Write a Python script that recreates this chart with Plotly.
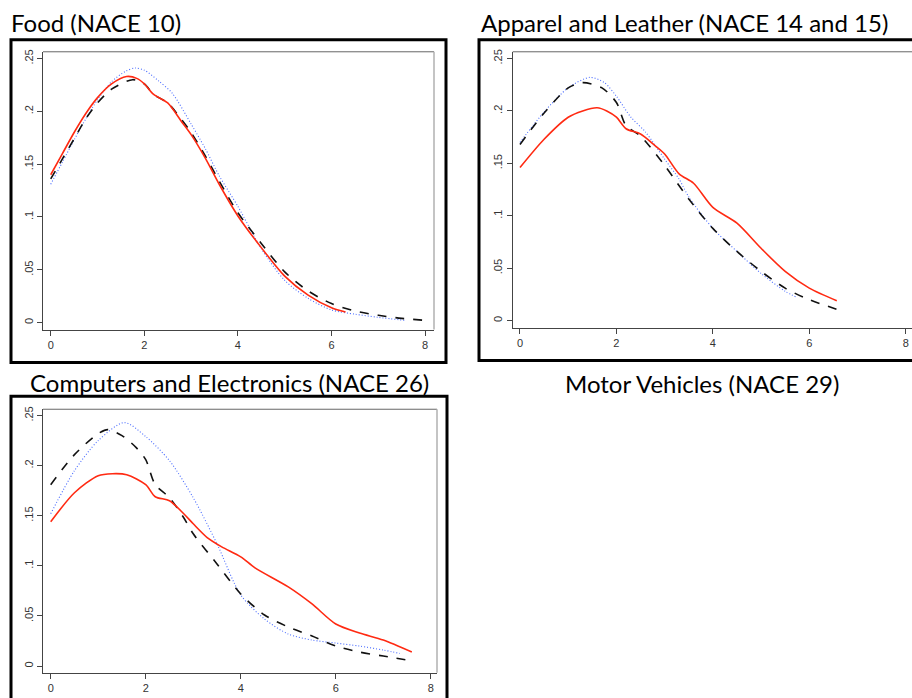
import plotly.graph_objects as go

W, H = 912, 698

# ---------------- data ----------------
# Food (NACE 10)
food_red_x = [0, 0.25, 0.5, 0.75, 1.0, 1.3, 1.62, 1.85, 2.0, 2.2, 2.5, 2.8, 3.0, 3.3, 3.6, 4.0, 4.5, 5.0, 5.5, 6.0, 6.3]
food_red_y = [0.140, 0.160, 0.180, 0.198, 0.213, 0.226, 0.233, 0.231, 0.226, 0.216, 0.208, 0.190, 0.178, 0.156, 0.131, 0.101, 0.071, 0.044, 0.026, 0.014, 0.010]
food_blk_x = [0, 0.25, 0.5, 0.75, 1.0, 1.3, 1.75, 2.0, 2.2, 2.5, 2.8, 3.0, 3.3, 3.6, 4.0, 4.5, 5.0, 5.5, 6.0, 6.5, 7.0, 7.5, 8.05]
food_blk_y = [0.136, 0.155, 0.174, 0.193, 0.208, 0.221, 0.230, 0.226, 0.216, 0.208, 0.192, 0.180, 0.158, 0.134, 0.104, 0.075, 0.048, 0.030, 0.018, 0.011, 0.007, 0.004, 0.002]
food_blu_x = [0, 0.25, 0.5, 0.75, 1.0, 1.3, 1.6, 1.8, 2.0, 2.3, 2.6, 3.0, 3.3, 3.6, 4.0, 4.5, 5.0, 5.5, 6.0, 6.5, 7.0, 7.6]
food_blu_y = [0.131, 0.152, 0.173, 0.193, 0.211, 0.228, 0.238, 0.241, 0.239, 0.229, 0.217, 0.188, 0.165, 0.139, 0.110, 0.070, 0.040, 0.023, 0.012, 0.008, 0.005, 0.002]

# Apparel and Leather (NACE 14 and 15)
app_red_x = [0, 0.5, 1.0, 1.3, 1.6, 1.8, 2.0, 2.2, 2.5, 2.8, 3.0, 3.3, 3.6, 4.0, 4.5, 5.0, 5.5, 6.0, 6.57]
app_red_y = [0.146, 0.173, 0.194, 0.200, 0.203, 0.200, 0.194, 0.183, 0.178, 0.167, 0.159, 0.140, 0.131, 0.108, 0.093, 0.069, 0.047, 0.031, 0.019]
app_blk_x = [0, 0.5, 1.0, 1.3, 1.7, 2.0, 2.2, 2.5, 3.0, 3.5, 4.0, 4.5, 5.0, 5.5, 6.0, 6.66]
app_blk_y = [0.168, 0.198, 0.222, 0.227, 0.222, 0.208, 0.186, 0.176, 0.148, 0.116, 0.088, 0.066, 0.047, 0.031, 0.020, 0.0095]
app_blu_x = [0, 0.5, 1.0, 1.45, 1.75, 2.0, 2.3, 2.6, 3.0, 3.3, 3.5, 4.0, 4.5, 5.0, 5.5, 5.75]
app_blu_y = [0.170, 0.199, 0.222, 0.232, 0.227, 0.214, 0.194, 0.180, 0.154, 0.135, 0.118, 0.088, 0.066, 0.045, 0.028, 0.022]

# Computers and Electronics (NACE 26)
comp_red_x = [0, 0.5, 1.0, 1.3, 1.6, 2.0, 2.2, 2.5, 2.8, 3.0, 3.3, 3.6, 4.0, 4.3, 5.0, 5.5, 6.0, 6.5, 7.0, 7.6]
comp_red_y = [0.144, 0.173, 0.190, 0.192, 0.191, 0.181, 0.169, 0.165, 0.152, 0.142, 0.128, 0.119, 0.109, 0.098, 0.079, 0.062, 0.042, 0.033, 0.026, 0.014]
comp_blk_x = [0, 0.5, 1.0, 1.2, 1.5, 1.8, 2.0, 2.2, 2.5, 2.8, 3.0, 3.5, 4.0, 4.5, 5.0, 5.5, 6.0, 6.5, 7.0, 7.6]
comp_blk_y = [0.181, 0.211, 0.232, 0.236, 0.230, 0.218, 0.206, 0.181, 0.168, 0.148, 0.132, 0.102, 0.072, 0.051, 0.039, 0.030, 0.020, 0.014, 0.010, 0.0053]
comp_blu_x = [0, 0.5, 1.0, 1.55, 2.0, 2.5, 3.0, 3.5, 4.0, 4.5, 5.0, 5.5, 6.0, 6.5, 7.0, 7.35]
comp_blu_y = [0.152, 0.195, 0.225, 0.243, 0.229, 0.205, 0.168, 0.122, 0.071, 0.047, 0.032, 0.026, 0.023, 0.020, 0.016, 0.0126]

panel_titles = ["Food (NACE 10)", "Apparel and Leather (NACE 14 and 15)",
                "Computers and Electronics (NACE 26)", "Motor Vehicles (NACE 29)"]
x_ticks = [0, 2, 4, 6, 8]
y_ticks = [0, 0.05, 0.10, 0.15, 0.20, 0.25]
y_tick_text = ["0", ".05", ".1", ".15", ".2", ".25"]

RED = "#ff2a12"
BLUE = "#4a6cff"
BLACK = "#111111"

panels = [
    (food_red_x, food_red_y, food_blk_x, food_blk_y, food_blu_x, food_blu_y),
    (app_red_x, app_red_y, app_blk_x, app_blk_y, app_blu_x, app_blu_y),
    (comp_red_x, comp_red_y, comp_blk_x, comp_blk_y, comp_blu_x, comp_blu_y),
]

# pixel geometry of plot areas: (left, right, top, bottom), axis ranges
geom = [
    dict(px=(43, 434, 49, 328), xr=(-0.165, 8.19), yr=(-0.0066, 0.2564)),
    dict(px=(512.7, 912, 49, 326.7), xr=(-0.151, 8.13), yr=(-0.0073, 0.2564)),
    dict(px=(43, 437, 408, 672.7), xr=(-0.162, 8.13), yr=(-0.0067, 0.2563)),
]

fig = go.Figure()
layout = dict(
    width=W, height=H, margin=dict(l=0, r=0, t=0, b=0),
    paper_bgcolor="white", plot_bgcolor="white", showlegend=False,
)

axis_font = dict(family="Arial, Liberation Sans, sans-serif", size=11, color="#333333")

shapes = []
for i, (rx, ry, bx, by, ux, uy) in enumerate(panels):
    n = "" if i == 0 else str(i + 1)
    xa, ya = "x" + n, "y" + n
    fig.add_trace(go.Scatter(x=ux, y=uy, xaxis=xa, yaxis=ya, mode="lines", name="dotted",
                             line=dict(color=BLUE, width=1.1, dash="1px,2px", shape="spline", smoothing=0.8)))
    fig.add_trace(go.Scatter(x=bx, y=by, xaxis=xa, yaxis=ya, mode="lines", name="dashed",
                             line=dict(color=BLACK, width=1.6, dash="dash", shape="spline", smoothing=0.8)))
    fig.add_trace(go.Scatter(x=rx, y=ry, xaxis=xa, yaxis=ya, mode="lines", name="solid",
                             line=dict(color=RED, width=1.6, shape="spline", smoothing=0.8)))
    g = geom[i]
    l, r, t, b = g["px"]
    layout["xaxis" + n] = dict(
        domain=[l / W, r / W], range=list(g["xr"]), anchor=ya,
        tickvals=x_ticks, ticks="outside", ticklen=5, tickcolor="#444444",
        showline=True, linecolor="#444444", linewidth=1, showgrid=False, zeroline=False,
        tickfont=axis_font, fixedrange=True,
    )
    layout["yaxis" + n] = dict(
        domain=[1 - b / H, 1 - t / H], range=list(g["yr"]), anchor=xa,
        tickvals=y_ticks, ticktext=y_tick_text, tickangle=-90,
        ticks="outside", ticklen=5, tickcolor="#444444",
        showline=True, linecolor="#444444", linewidth=1, showgrid=False, zeroline=False,
        tickfont=axis_font, fixedrange=True,
    )
    # top and right frame of plot region
    shapes.append(dict(type="line", xref="paper", yref="paper", x0=l / W, x1=r / W,
                       y0=1 - t / H, y1=1 - t / H, line=dict(color="#666666", width=1)))
    if r < W:
        shapes.append(dict(type="line", xref="paper", yref="paper", x0=r / W, x1=r / W,
                           y0=1 - b / H, y1=1 - t / H, line=dict(color="#b0b0b0", width=1.5)))

# outer black boxes (left, right, top, bottom) in px
boxes = [(11, 446, 37, 361), (479, 916, 37, 359), (11, 447, 395, 702)]
for (l, r, t, b) in boxes:
    shapes.append(dict(type="rect", xref="paper", yref="paper",
                       x0=l / W, x1=r / W, y0=1 - b / H, y1=1 - t / H,
                       line=dict(color="black", width=3), fillcolor="rgba(0,0,0,0)"))
layout["shapes"] = shapes

title_font = dict(family="Lato, Open Sans, sans-serif", size=24, color="black")
title_pos = [(9, 20), (479, 20), (28, 381), (563, 382)]
layout["annotations"] = [
    dict(text=txt, xref="paper", yref="paper", x=px / W, y=1 - py / H,
         xanchor="left", yanchor="middle", showarrow=False, font=title_font)
    for txt, (px, py) in zip(panel_titles, title_pos)
]

fig.update_layout(**layout)
fig.write_html("out.html")
